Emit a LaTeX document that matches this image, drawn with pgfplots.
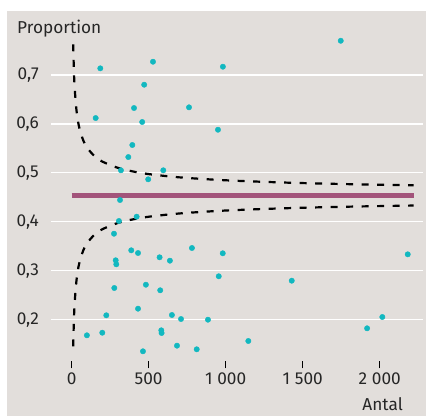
\documentclass[border=0pt]{standalone}
\usepackage{pgfplots}
\pgfplotsset{compat=1.18}
\usepackage{fontspec}
\setmainfont{Fira Sans}
\definecolor{bgcol}{HTML}{E2DEDB}
\definecolor{dotcol}{HTML}{12B8C0}
\definecolor{meancol}{HTML}{A2537A}
\newcommand{\lblfont}{\fontsize{17.3}{19}\selectfont}

\begin{document}
\begin{tikzpicture}[x=1bp,y=1bp]
% page frame (white margins top/left) and grey panel
\path (-51,-55.3) rectangle (375,360.7);
\fill[bgcol] (-44,-55.3) rectangle (375,349.7);
\begin{axis}[
  at={(0,0)}, anchor=south west,
  scale only axis, width=372bp, height=329.7bp,
  xmin=-134, xmax=2281, ymin=0.1162, ymax=0.79,
  axis x line=bottom, axis y line=left,
  x axis line style={draw=none}, y axis line style={draw=none},
  xtick={0,500,1000,1500,2000},
  xticklabels={0,500,{1\hspace{0.28em}000},{1\hspace{0.28em}500},{2\hspace{0.28em}000}},
  ytick={0.2,0.3,0.4,0.5,0.6,0.7},
  y tick label style={/pgf/number format/fixed, /pgf/number format/fixed zerofill,
    /pgf/number format/precision=1, /pgf/number format/use comma,
    /pgf/number format/assume math mode=true, xshift=-1bp},
  tick label style={font=\lblfont, text=black!85},
  xtick style={draw=black, line width=1.1bp}, ytick style={draw=none},
  major tick length=7.6bp, tick align=outside,
  x tick label style={yshift=-1bp},
  ymajorgrids, grid style={white, line width=1.1bp},
  clip=false,
]
% mean proportion
\addplot[meancol, line width=5.5bp, forget plot] coordinates {(0,0.454) (2221,0.454)};
% 95% control limits
\addplot[black, line width=2.2bp, dash pattern=on 7bp off 8.5bp, smooth, forget plot] table[row sep=\\] {
n p \\
10 0.7626 \\ 15 0.706 \\ 20 0.6722 \\ 30 0.6322 \\ 40 0.6083 \\ 50 0.592 \\
75 0.5667 \\ 100 0.5516 \\ 150 0.5337 \\ 200 0.523 \\ 300 0.5103 \\ 400 0.5028 \\
500 0.4976 \\ 700 0.4909 \\ 1000 0.4849 \\ 1400 0.4801 \\ 1800 0.477 \\ 2220 0.4747 \\
};
\addplot[black, line width=2.2bp, dash pattern=on 7bp off 8.5bp, smooth, forget plot] table[row sep=\\] {
n p \\
10 0.1454 \\ 15 0.202 \\ 20 0.2358 \\ 30 0.2758 \\ 40 0.2997 \\ 50 0.316 \\
75 0.3413 \\ 100 0.3564 \\ 150 0.3743 \\ 200 0.385 \\ 300 0.3977 \\ 400 0.4052 \\
500 0.4104 \\ 700 0.4171 \\ 1000 0.4231 \\ 1400 0.4279 \\ 1800 0.431 \\ 2220 0.4333 \\
};
% units
\addplot[only marks, color=dotcol, mark=*, mark size=2.7bp, mark options={solid, draw=none, fill=dotcol}] table[row sep=\\] {
n p \\
186 0.7137 \\ 528 0.7272 \\ 471 0.6802 \\ 405 0.6326 \\ 156 0.6121 \\ 458 0.604 \\
762 0.634 \\ 394 0.557 \\ 368 0.5324 \\ 320 0.5053 \\ 595 0.5053 \\ 497 0.4869 \\
314 0.4446 \\ 982 0.717 \\ 1747 0.770 \\ 950 0.5882 \\ 307 0.4017 \\ 422 0.4105 \\
275 0.3757 \\ 387 0.3418 \\ 431 0.3363 \\ 286 0.3214 \\ 290 0.3132 \\ 571 0.3275 \\
638 0.3206 \\ 781 0.3465 \\ 277 0.2648 \\ 482 0.2715 \\ 575 0.2601 \\ 225 0.209 \\
431 0.2225 \\ 651 0.2096 \\ 710 0.2014 \\ 885 0.2 \\ 99 0.1681 \\ 199 0.1734 \\
582 0.1783 \\ 584 0.1728 \\ 684 0.1469 \\ 463 0.1354 \\ 812 0.1395 \\ 981 0.3357 \\
955 0.2887 \\ 1429 0.2797 \\ 2182 0.3336 \\ 1147 0.1565 \\ 1918 0.1824 \\ 2017 0.2055 \\
};
\end{axis}
\node[anchor=base west, font=\lblfont, text=black!85, inner sep=0pt] at (-34,327.2) {Proportion};
\node[anchor=base east, font=\lblfont, text=black!85, inner sep=0pt] at (352,-50) {Antal};
\end{tikzpicture}
\end{document}
